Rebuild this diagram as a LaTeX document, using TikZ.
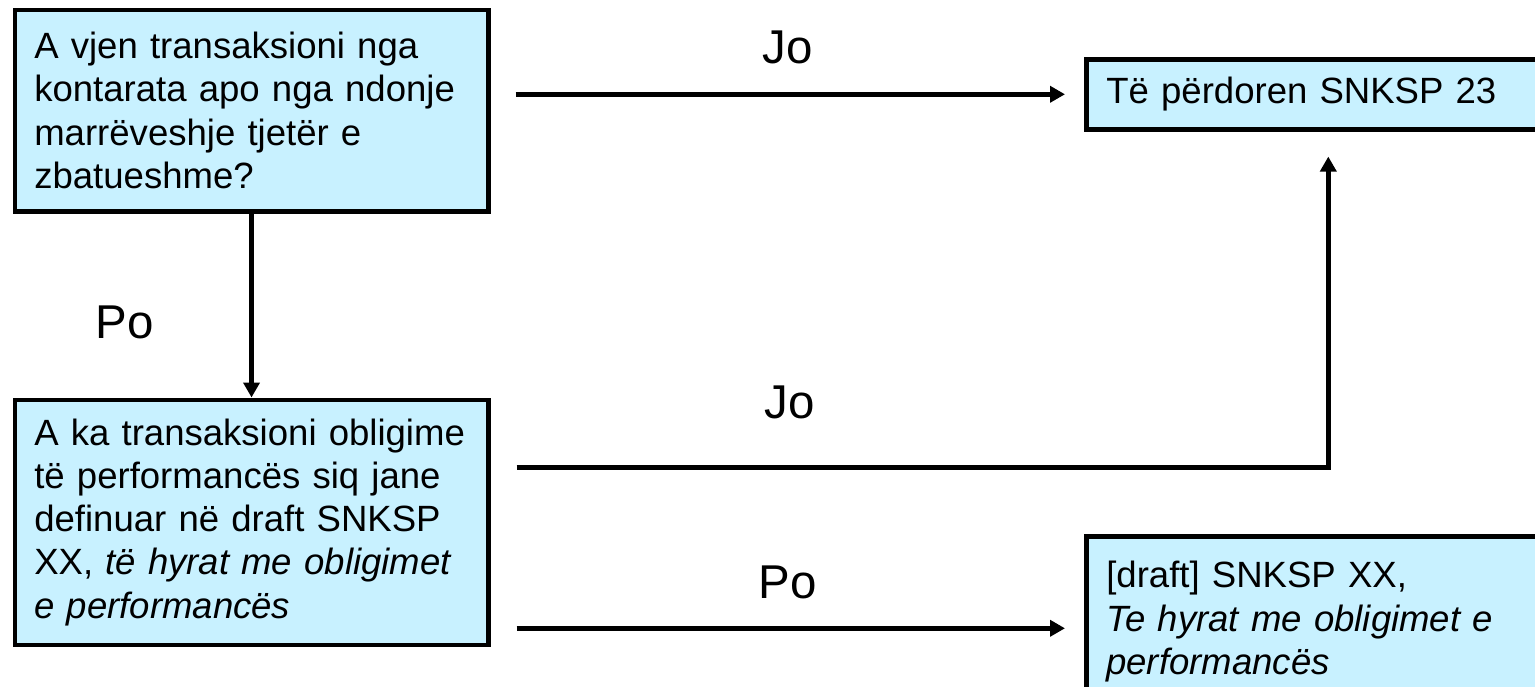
\documentclass[tikz,border=0pt]{standalone}
\usepackage{fontspec}
\setmainfont{Liberation Sans}
\usetikzlibrary{arrows.meta}
\definecolor{boxfill}{RGB}{200,241,255}
\begin{document}
\begin{tikzpicture}[x=0.2mm,y=-0.2mm,
  box/.style={draw,line width=2.6pt,fill=boxfill,anchor=north west,align=left,
    inner xsep=0.39cm,font=\fontsize{20.8}{24.6}\selectfont},
  lbl/.style={anchor=base,font=\fontsize{27}{32}\selectfont},
  flow/.style={line width=2.7pt,-{Triangle[length=0.3cm,width=0.32cm]}}]
\useasboundingbox (0,0) rectangle (1535,686);
\clip (0,0) rectangle (1535,686);
\node[box,text width=8.69cm,minimum width=9.47cm,minimum height=4.03cm] (q1) at (12.5,7.5)
  {A vjen transaksioni nga\\kontarata apo nga ndonje\\marrëveshje tjetër e\\zbatueshme?};
\node[box,text width=8.69cm,minimum width=9.47cm,minimum height=4.9cm] (q2) at (12.5,397.5)
  {A ka transaksioni obligime\\të performancës siq jane\\definuar në draft SNKSP\\XX, \textit{të hyrat me obligimet}\\\textit{e performancës}};
\node[box,text width=8.88cm,inner xsep=0.4cm,minimum width=9.68cm,minimum height=1.4cm] (r1) at (1084,57)
  {Të përdoren SNKSP 23};
\node[box,text width=8.88cm,inner xsep=0.4cm,inner ysep=0.5cm,minimum width=9.68cm] (r2) at (1084,534)
  {[draft] SNKSP XX,\\\textit{Te hyrat me obligimet e}\\\textit{performancës}};
\draw[flow,shorten <=0.5cm,shorten >=0.38cm] (q1.east |- r1.west) -- (r1.west);
\draw[flow] (q1) -- (q2);
\draw[flow,shorten <=0.52cm,shorten >=0.5cm] ([yshift=1.1cm]q2.east) -| (r1.south);
\draw[flow,shorten <=0.52cm,shorten >=0.38cm] ([yshift=-2.12cm]q2.east) -- ([yshift=-2.12cm]q2.east -| r2.west);
\node[lbl] (jo1) at (788,63) {Jo};
\node[lbl] (po1) at (125,338) {Po};
\node[lbl] (jo2) at (790,418) {Jo};
\node[lbl] (po2) at (788,598) {Po};
\end{tikzpicture}
\end{document}
